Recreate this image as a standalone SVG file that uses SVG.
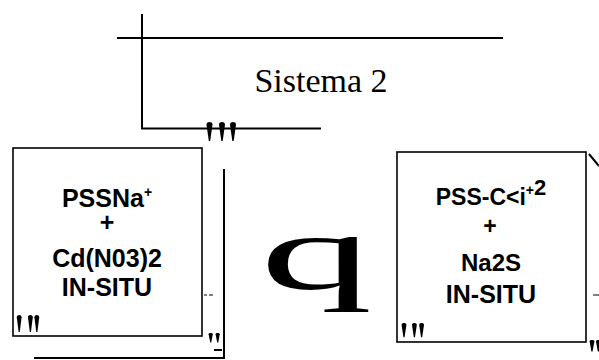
<svg xmlns="http://www.w3.org/2000/svg" xmlns:xlink="http://www.w3.org/1999/xlink" width="599" height="360" viewBox="0 0 599 360">
<style>
.ln{stroke:#000;fill:none;stroke-width:2}
.bx{stroke:#000;fill:#fff;stroke-width:1.6}
.lbl{font-family:"Liberation Sans",Arial,sans-serif;font-weight:bold;fill:#000;text-anchor:middle}
.ser{font-family:"Liberation Serif","Times New Roman",serif;fill:#000}
</style>
<defs>
<path id="drop" d="M -3 2.5 C -3 -0.8 3 -0.8 3 2.5 L 0.7 19 L -0.7 19 Z" fill="#000"/>
</defs>
<rect width="599" height="360" fill="#fff"/>
<g id="connectors">
<line class="ln" x1="142" y1="14" x2="142" y2="128" stroke-width="2.6"/>
<line class="ln" x1="117" y1="38" x2="503" y2="38"/>
<line class="ln" x1="141" y1="128.5" x2="321" y2="128.5"/>
<line class="ln" x1="224" y1="169" x2="224" y2="359"/>
<line class="ln" x1="34" y1="358" x2="225" y2="358"/>
<line class="ln" x1="214" y1="350" x2="222" y2="350"/>
<line class="ln" x1="589" y1="154" x2="599" y2="166" stroke-width="1.8"/>
<line x1="204" y1="295" x2="207" y2="295" stroke="#000" stroke-width="1"/>
<line x1="209" y1="295" x2="213" y2="295" stroke="#000" stroke-width="1"/>
<line x1="593" y1="295" x2="599" y2="295" stroke="#000" stroke-width="1"/>
<use xlink:href="#drop" x="209.5" y="122"/>
<use xlink:href="#drop" x="222" y="122"/>
<use xlink:href="#drop" x="233" y="122"/>
</g>
<g id="title">
<text class="ser" x="321" y="92" font-size="34" text-anchor="middle">Sistema 2</text>
</g>
<g id="box1">
<rect class="bx" x="13" y="148" width="189" height="188"/>
<text class="lbl" x="107" y="207" font-size="25">PSSNa<tspan font-size="14" dy="-10">+</tspan></text>
<text class="lbl" x="107" y="231" font-size="25">+</text>
<text class="lbl" x="107" y="267" font-size="25">Cd(N03)2</text>
<text class="lbl" x="107" y="296" font-size="25">IN-SITU</text>
<g transform="translate(0,315) scale(0.8,0.9)">
<use xlink:href="#drop" x="24" y="0"/>
<use xlink:href="#drop" x="38" y="0"/>
<use xlink:href="#drop" x="46" y="0"/>
</g>
<g transform="translate(0,333) scale(0.7,0.5)">
<use xlink:href="#drop" x="301" y="0"/>
<use xlink:href="#drop" x="311" y="0"/>
</g>
</g>
<g id="q">
<text class="ser" transform="translate(260,289) scale(2.1,1)" x="0" y="0" font-size="107">q</text>
</g>
<g id="box2">
<rect class="bx" x="397" y="152" width="189" height="190"/>
<text class="lbl" x="491" y="205" font-size="23">PSS-C&lt;i<tspan font-size="14" dy="-10">+</tspan><tspan font-size="22">2</tspan></text>
<text class="lbl" x="490" y="234" font-size="23">+</text>
<text class="lbl" x="491" y="271" font-size="24">Na2S</text>
<text class="lbl" x="491" y="303" font-size="25">IN-SITU</text>
<g transform="translate(0,323) scale(0.8,0.75)">
<use xlink:href="#drop" x="505" y="0"/>
<use xlink:href="#drop" x="518" y="0"/>
<use xlink:href="#drop" x="527" y="0"/>
</g>
<g transform="translate(0,340) scale(0.8,0.6)">
<use xlink:href="#drop" x="740" y="0"/>
<use xlink:href="#drop" x="748" y="0"/>
</g>
</g>
</svg>
